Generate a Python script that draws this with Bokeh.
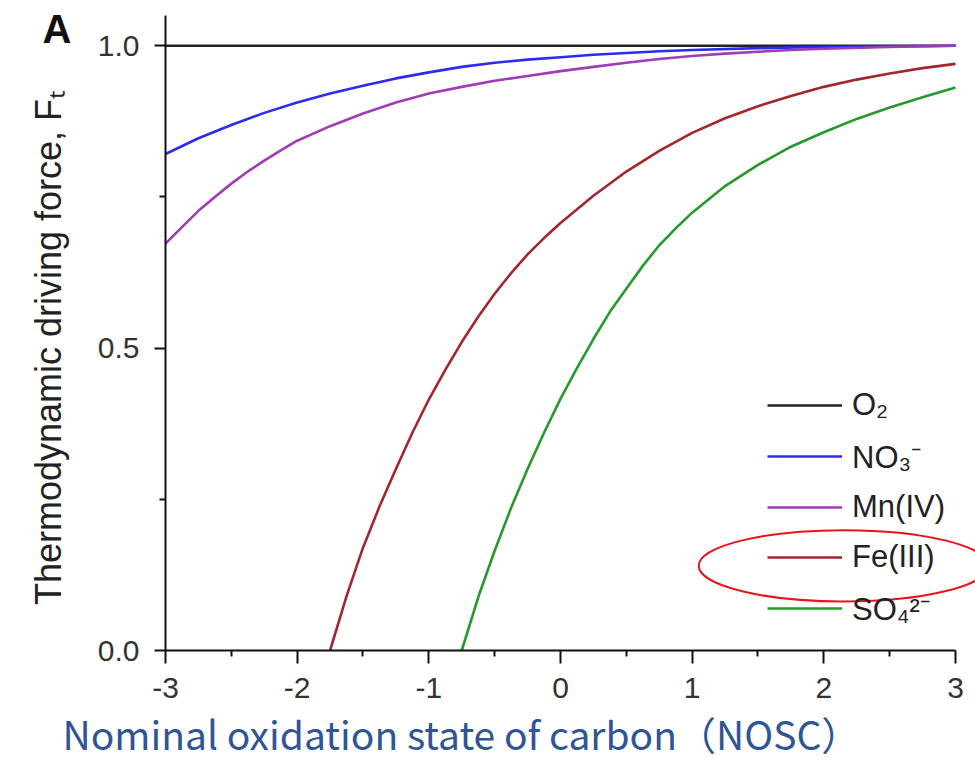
from bokeh.plotting import figure
from bokeh.models import (Range1d, FixedTicker, Legend, LegendItem,
                          NumeralTickFormatter, Title)
from bokeh.embed import file_html
from bokeh.resources import INLINE

# ---- data ----
x_o2 = [-3, 3]
f_o2 = [1.0, 1.0]

x_no3 = [-3, -2.75, -2.5, -2.25, -2, -1.75, -1.5, -1.25, -1, -0.75, -0.5,
         -0.25, 0, 0.25, 0.5, 0.75, 1, 1.5, 2, 2.5, 3]
f_no3 = [0.821, 0.847, 0.869, 0.889, 0.906, 0.921, 0.934, 0.946, 0.956,
         0.965, 0.972, 0.977, 0.981, 0.985, 0.988, 0.991, 0.993, 0.996,
         0.998, 0.999, 1.0]

x_mn = [-3, -2.875, -2.75, -2.625, -2.5, -2.375, -2.25, -2.125, -2, -1.75,
        -1.5, -1.25, -1, -0.75, -0.5, -0.25, 0, 0.25, 0.5, 0.75, 1, 1.25,
        1.5, 1.75, 2, 2.5, 3]
f_mn = [0.673, 0.70, 0.727, 0.75, 0.772, 0.792, 0.81, 0.827, 0.843, 0.867,
        0.888, 0.906, 0.921, 0.932, 0.942, 0.950, 0.958, 0.965, 0.972, 0.978,
        0.983, 0.987, 0.990, 0.993, 0.995, 0.998, 1.0]

x_fe = [-1.75, -1.625, -1.5, -1.375, -1.25, -1.125, -1.0, -0.875, -0.75,
        -0.625, -0.5, -0.375, -0.25, -0.125, 0, 0.25, 0.5, 0.75, 1, 1.25,
        1.5, 1.75, 2, 2.25, 2.5, 2.75, 3]
f_fe = [0, 0.09, 0.17, 0.238, 0.30, 0.36, 0.415, 0.464, 0.51, 0.552, 0.59,
        0.624, 0.655, 0.682, 0.707, 0.752, 0.792, 0.826, 0.856, 0.88, 0.9,
        0.917, 0.932, 0.944, 0.954, 0.963, 0.970]

x_so4 = [-0.75, -0.625, -0.5, -0.375, -0.25, -0.125, 0, 0.125, 0.25, 0.375,
         0.5, 0.625, 0.75, 0.875, 1, 1.25, 1.5, 1.75, 2, 2.25, 2.5, 2.75, 3]
f_so4 = [0, 0.088, 0.165, 0.236, 0.30, 0.36, 0.416, 0.467, 0.515, 0.56,
         0.598, 0.636, 0.67, 0.698, 0.724, 0.768, 0.803, 0.833, 0.857, 0.879,
         0.898, 0.915, 0.931]

labels = ["O\u2082", "NO\u2083\u207b", "Mn(IV)", "Fe(III)", "SO\u2084\u00b2\u207b"]
colors = ["#222222", "#2b2bf5", "#a03cb6", "#a3262e", "#259a2c"]

x_major = [-3, -2, -1, 0, 1, 2, 3]
x_minor = [-2.5, -1.5, -0.5, 0.5, 1.5, 2.5]
y_major = [0.0, 0.5, 1.0]
y_minor = [0.25, 0.75]

FONT = "Liberation Sans"

p = figure(width=975, height=767, output_backend="svg", toolbar_location=None,
           x_range=Range1d(-3, 3.152), y_range=Range1d(0, 1.05),
           min_border_left=165, min_border_right=0, min_border_top=15,
           min_border_bottom=117, x_axis_location="below")
p.outline_line_color = None
p.grid.visible = False
p.background_fill_color = "white"
p.border_fill_color = "white"

renderers = []
for xs, ys, c in [(x_o2, f_o2, colors[0]), (x_no3, f_no3, colors[1]),
                  (x_mn, f_mn, colors[2]), (x_fe, f_fe, colors[3]),
                  (x_so4, f_so4, colors[4])]:
    renderers.append(p.line(xs, ys, line_color=c, line_width=2.6,
                            line_join="round"))

# axes
xa = p.xaxis[0]
xa.ticker = FixedTicker(ticks=x_major, minor_ticks=x_minor)
xa.formatter = NumeralTickFormatter(format="0")
xa.bounds = (-3, 3)
ya = p.yaxis[0]
ya.ticker = FixedTicker(ticks=y_major, minor_ticks=y_minor)
ya.formatter = NumeralTickFormatter(format="0.0")
for ax in (xa, ya):
    ax.axis_line_width = 2
    ax.axis_line_color = "#111111"
    ax.major_tick_line_width = 2
    ax.minor_tick_line_width = 2
    ax.major_tick_line_color = "#111111"
    ax.minor_tick_line_color = "#111111"
    ax.major_tick_in = 0
    ax.minor_tick_in = 0
    ax.major_label_text_font = FONT
    ax.major_label_text_font_size = "30px"
    ax.major_label_text_color = "#333333"
xa.major_tick_out = 13
xa.minor_tick_out = 6
xa.major_label_standoff = 14
ya.major_tick_out = 11
ya.minor_tick_out = 6
ya.major_label_standoff = 15

ya.axis_label = "Thermodynamic driving force, F\u209c\u00a0\u00a0\u00a0"
ya.axis_label_text_font = FONT
ya.axis_label_text_font_size = "36px"
ya.axis_label_text_font_style = "normal"
ya.axis_label_text_color = "#222222"
ya.axis_label_standoff = 26

# legend
items = [LegendItem(label=l, renderers=[r]) for l, r in zip(labels, renderers)]
legend = Legend(items=items, location=(602, 21), orientation="vertical",
                glyph_width=75, glyph_height=40, label_height=40, spacing=10,
                label_standoff=10, padding=0, margin=0,
                border_line_color=None, background_fill_alpha=0,
                label_text_font=FONT, label_text_font_size="31px",
                label_text_color="#222222")
p.add_layout(legend, "center")

# panel letter (title in the top border, pulled down beside the y axis)
p.add_layout(Title(text="A", align="left", offset=-123, standoff=-70,
                   vertical_align="bottom", text_font=FONT,
                   text_font_size="40px", text_font_style="bold",
                   text_color="#111111"), "above")

# x-axis title, aligned left of centre as in the reference
p.add_layout(Title(text="Nominal oxidation state of carbon\uff08NOSC\uff09",
                   align="left", offset=-103, standoff=4,
                   text_font="Noto Sans CJK SC", text_font_size="39px",
                   text_font_style="normal", text_color="#2f5597"), "below")

# highlight ellipse round the Fe(III) legend entry
p.ellipse(x=[2.15], y=[0.14], width=[2.2], height=[0.118],
          fill_color=None, line_color="#e8141c", line_width=2)

open("out.html", "w").write(file_html(p, INLINE))
